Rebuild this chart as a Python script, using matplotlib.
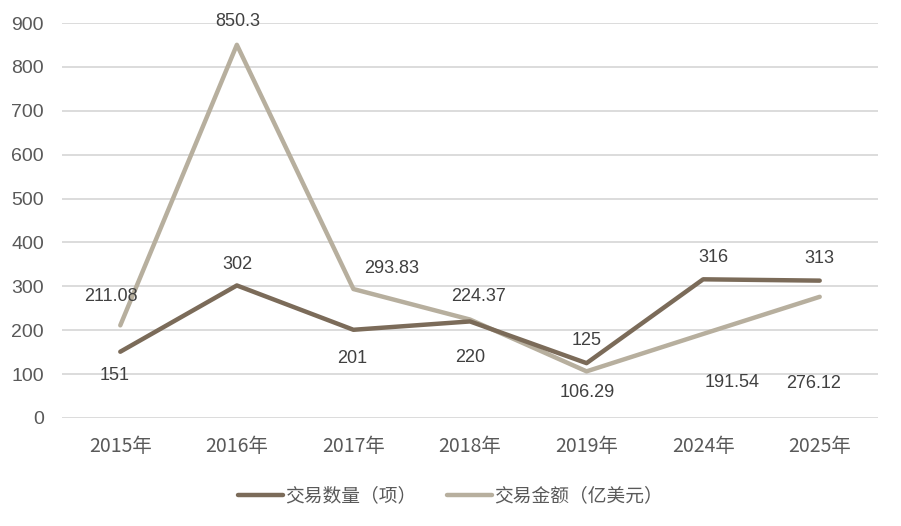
import matplotlib
matplotlib.use("Agg")
import matplotlib.pyplot as plt

plt.rcParams['font.family'] = ['Noto Sans CJK SC', 'DejaVu Sans']

years = ["2015年", "2016年", "2017年", "2018年", "2019年", "2024年", "2025年"]
deal_count = [151, 302, 201, 220, 125, 316, 313]
deal_value = [211.08, 850.3, 293.83, 224.37, 106.29, 191.54, 276.12]
count_labels = ["151", "302", "201", "220", "125", "316", "313"]
value_labels = ["211.08", "850.3", "293.83", "224.37", "106.29", "191.54", "276.12"]
series_names = ["交易数量（项）", "交易金额（亿美元）"]

# label offsets in pixels (dx, dy)
count_offsets = [(-6, -24), (1, 21), (-1, -29), (0, -36), (0, 23), (10, 22), (0, 22)]
value_offsets = [(-9, 29), (1, 23), (38, 21), (9, 23), (1, -21), (29, -49), (-6, -87)]

dark = "#7b6b59"
light = "#b7af9e"
txt = "#404040"

fig = plt.figure(figsize=(9.01, 5.26), dpi=100)
ax = fig.add_axes([62/901, 1-418/526, (878-62)/901, (418-23)/526])
x = list(range(len(years)))
ax.plot(x, deal_count, color=dark, lw=3.2, solid_capstyle='round', zorder=3, label=series_names[0])
ax.plot(x, deal_value, color=light, lw=3.2, solid_capstyle='round', zorder=2, label=series_names[1])

lab_font = ['Liberation Sans', 'Noto Sans CJK SC']
for i in x:
    ax.annotate(count_labels[i], (i, deal_count[i]), xytext=count_offsets[i], textcoords='offset pixels',
                ha='center', va='center', fontsize=13, color=txt, family=lab_font)
    ax.annotate(value_labels[i], (i, deal_value[i]), xytext=value_offsets[i], textcoords='offset pixels',
                ha='center', va='center', fontsize=13, color=txt, family=lab_font, annotation_clip=False)

ax.set_xlim(-0.5, len(years) - 0.5)
ax.set_ylim(0, 900)
ax.set_yticks(range(0, 901, 100))
ax.set_xticks(x)
ax.set_xticklabels(years)
ax.grid(axis='y', color='#d9d9d9', lw=1.3)
ax.set_axisbelow(True)
for s in ax.spines.values():
    s.set_visible(False)
ax.tick_params(axis='both', length=0, colors='#595959')
ax.tick_params(axis='x', pad=13, labelsize=14)
ax.tick_params(axis='y', pad=13, labelsize=14)
for t in ax.get_yticklabels():
    t.set_family(lab_font)

leg = fig.legend(loc='center', bbox_to_anchor=(0.5, 1-496/526), ncol=2, frameon=False,
                 fontsize=13.5, handlelength=2.4, columnspacing=1.6, handletextpad=0.15)
for t in leg.get_texts():
    t.set_color('#595959')

fig.savefig("out.png", dpi=100)
